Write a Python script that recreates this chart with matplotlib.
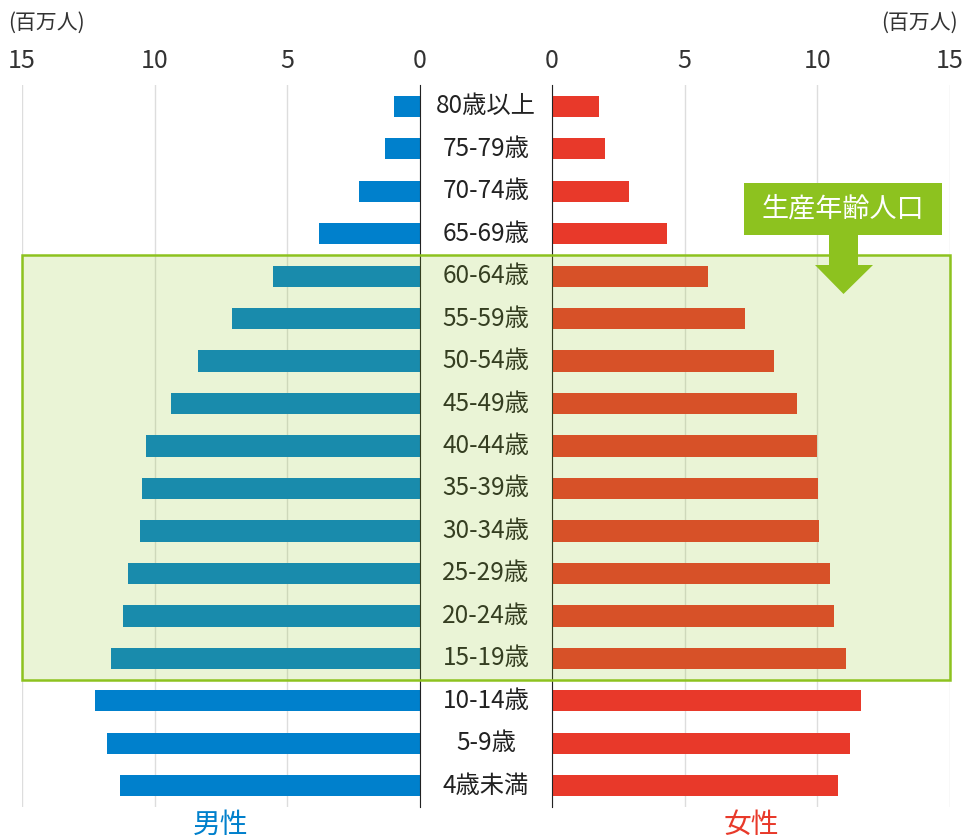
import matplotlib.pyplot as plt
from matplotlib.patches import Rectangle, Polygon
from matplotlib.transforms import blended_transform_factory

plt.rcParams['font.family'] = ['Noto Sans CJK JP', 'DejaVu Sans']

# data (millions of people)
ages = ["80歳以上", "75-79歳", "70-74歳", "65-69歳", "60-64歳", "55-59歳",
        "50-54歳", "45-49歳", "40-44歳", "35-39歳", "30-34歳", "25-29歳",
        "20-24歳", "15-19歳", "10-14歳", "5-9歳", "4歳未満"]
male = [0.98, 1.32, 2.30, 3.81, 5.55, 7.09, 8.38, 9.40, 10.34, 10.49, 10.57,
        11.02, 11.18, 11.66, 12.25, 11.80, 11.30]
female = [1.77, 2.00, 2.90, 4.34, 5.89, 7.28, 8.38, 9.25, 10.00, 10.04, 10.08,
          10.49, 10.63, 11.07, 11.65, 11.23, 10.77]
ticks = [0, 5, 10, 15]
working_age = ("60-64歳", "15-19歳")

blue = "#0080CC"
red = "#E8392A"
green = "#8DC21F"
W, H = 966, 840

fig = plt.figure(figsize=(W / 100, H / 100), dpi=100)


def px(x0, y0, x1, y1):
    return [x0 / W, 1 - y1 / H, (x1 - x0) / W, (y1 - y0) / H]


ax_l = fig.add_axes(px(22, 85, 420, 807))
ax_m = fig.add_axes(px(420, 85, 552, 807))
ax_r = fig.add_axes(px(552, 85, 950, 807))

y = list(range(len(ages)))
ax_l.barh(y, male, height=0.5, color=blue, zorder=2)
ax_r.barh(y, female, height=0.5, color=red, zorder=2)

for ax in (ax_l, ax_m, ax_r):
    ax.set_ylim(len(ages) - 0.5, -0.5)
    ax.set_yticks([])
    for s in ax.spines.values():
        s.set_visible(False)
    ax.set_facecolor("none")

ax_l.set_xlim(15, 0)
ax_r.set_xlim(0, 15)
for ax in (ax_l, ax_r):
    ax.set_xticks(ticks)
    ax.xaxis.tick_top()
    ax.tick_params(axis="x", length=0, pad=8, labelsize=18, labelcolor="#333333")
    ax.grid(axis="x", color="#DDDDDD", linewidth=1, zorder=0)
    ax.set_axisbelow(True)
ax_l.spines["right"].set_visible(True)
ax_l.spines["right"].set_color("#222222")
ax_r.spines["left"].set_visible(True)
ax_r.spines["left"].set_color("#222222")

ax_m.set_xlim(0, 1)
ax_m.set_xticks([])
for i, lab in enumerate(ages):
    ax_m.text(0.5, i, lab, ha="center", va="center", fontsize=17.5, color="#222222")

fig.text(8 / W, 1 - 23 / H, "(百万人)", ha="left", va="center", fontsize=15, color="#333333")
fig.text(958 / W, 1 - 23 / H, "(百万人)", ha="right", va="center", fontsize=15, color="#333333")
fig.text(221 / W, 1 - 825 / H, "男性", ha="center", va="center", fontsize=20, color=blue)
fig.text(751 / W, 1 - 825 / H, "女性", ha="center", va="center", fontsize=20, color=red)

# working-age population box
top = ages.index(working_age[0]) - 0.5
bot = ages.index(working_age[1]) + 0.5
tr = blended_transform_factory(fig.transFigure, ax_l.transData)
fig.add_artist(Rectangle((22 / W, top), 928 / W, bot - top, transform=tr,
                         facecolor=green, alpha=0.18, edgecolor="none", zorder=5))
fig.add_artist(Rectangle((22 / W, top), 928 / W, bot - top, transform=tr,
                         facecolor="none", edgecolor=green, linewidth=1.8, zorder=6))

# callout
fig.add_artist(Rectangle((744 / W, 1 - 235 / H), 198 / W, 52 / H,
                         transform=fig.transFigure, facecolor=green,
                         edgecolor="none", zorder=7))
arrow = [(829, 235), (858, 235), (858, 265), (873, 265), (843.5, 294),
         (815, 265), (829, 265)]
fig.add_artist(Polygon([(a / W, 1 - b / H) for a, b in arrow], closed=True,
                       transform=fig.transFigure, facecolor=green,
                       edgecolor="none", zorder=7))
fig.text(843 / W, 1 - 209 / H, "生産年齢人口", ha="center", va="center",
         fontsize=19.5, color="white", zorder=8)

fig.savefig("out.png", dpi=100)
